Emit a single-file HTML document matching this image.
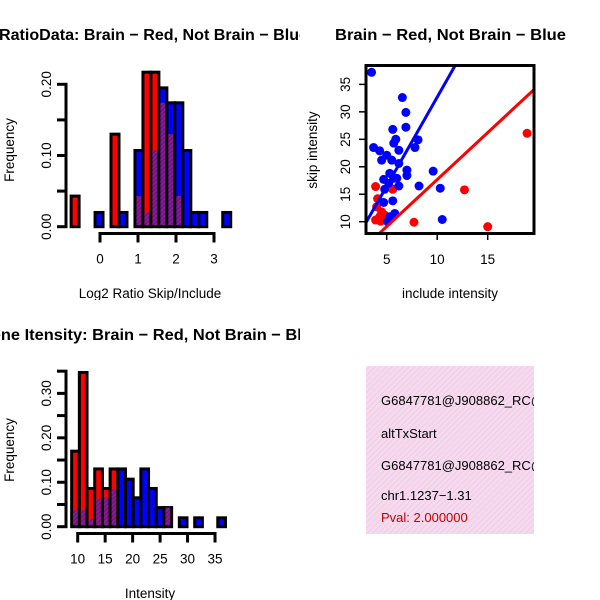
<!DOCTYPE html>
<html><head><meta charset="utf-8"><style>
html,body{margin:0;padding:0;background:#fff}
svg{display:block;font-family:"Liberation Sans",sans-serif}
</style></head><body>
<svg id="c" width="600" height="600" xmlns="http://www.w3.org/2000/svg">
<defs>
<clipPath id="cl1"><rect x="0" y="0" width="300" height="300"/></clipPath>
<clipPath id="cl2"><rect x="0" y="300" width="300" height="300"/></clipPath>
<clipPath id="cl3"><rect x="366" y="66" width="168" height="167"/></clipPath>
<clipPath id="cl4"><rect x="366" y="366" width="168" height="168"/></clipPath>
<pattern id="hatch" width="4" height="4" patternUnits="userSpaceOnUse" patternTransform="rotate(-45)">
<rect width="4" height="4" fill="#fad8f4"/><rect width="4" height="1.1" fill="#e4d4d8"/></pattern>
<pattern id="ph" width="3" height="3" patternUnits="userSpaceOnUse" patternTransform="rotate(-45)">
<rect width="3" height="3" fill="#8a1a9a"/><rect width="3" height="1" fill="#6a1070"/></pattern>
</defs>
<g id="p1" clip-path="url(#cl1)">
<text x="-1" y="40" font-weight="bold" font-size="16" textLength="309" lengthAdjust="spacingAndGlyphs">RatioData: Brain − Red, Not Brain − Blue</text>
<text x="150" y="298" text-anchor="middle" font-size="13.5">Log2 Ratio Skip/Include</text>
<text transform="translate(14,150) rotate(-90)" text-anchor="middle" font-size="13.5">Frequency</text>
</g>
<g id="p2" clip-path="url(#cl2)">
<text x="-21" y="340" font-weight="bold" font-size="16" textLength="342" lengthAdjust="spacingAndGlyphs">Gene Itensity: Brain − Red, Not Brain − Blue</text>
<text x="150" y="598" text-anchor="middle" font-size="13.5">Intensity</text>
<text transform="translate(14,450) rotate(-90)" text-anchor="middle" font-size="13.5">Frequency</text>
</g>
<g id="p3">
<text x="335" y="40" font-weight="bold" font-size="16" textLength="231" lengthAdjust="spacingAndGlyphs">Brain − Red, Not Brain − Blue</text>
<text x="450" y="298" text-anchor="middle" font-size="13.5">include intensity</text>
<text transform="translate(317,150) rotate(-90)" text-anchor="middle" font-size="13.5">skip intensity</text>
</g>
<g id="p4" clip-path="url(#cl4)">
<rect x="366" y="366" width="168" height="168" fill="url(#hatch)"/>
<text x="381" y="405" font-size="13">G6847781@J908862_RC@J908863</text>
<text x="381" y="438" font-size="13">altTxStart</text>
<text x="381" y="470" font-size="13">G6847781@J908862_RC@J908863</text>
<text x="381" y="500" font-size="13">chr1.1237−1.31</text>
<text x="381" y="522" font-size="13" fill="#c00000">Pval: 2.000000</text>
</g>
</svg>
<script>
// Ratio histogram data
const ratioBreaks = [-0.76,-0.55,-0.34,-0.13,0.08,0.29,0.50,0.71,0.92,1.13,1.34,1.55,1.76,1.97,2.18,2.39,2.60,2.81,3.02,3.23,3.44];
const ratioRed  = [0.043,0,0,0,0,0.13,0,0,0.043,0.217,0.217,0.174,0.13,0.043,0,0,0,0,0,0];
const ratioBlue = [0,0,0,0.02,0,0,0.02,0,0.107,0.02,0.107,0.195,0.174,0.174,0.107,0.02,0.02,0,0,0.02];
const ratioXTicks = [0,1,2,3];
const ratioYTicks = [0,0.05,0.10,0.15,0.20];
const ratioYLabels = ["0.00","","0.10","","0.20"];
// Intensity histogram data
const intBreaks = [8.9,10.3,11.7,13.1,14.5,15.9,17.3,18.7,20.1,21.5,22.9,24.3,25.7,27.1,28.5,29.9,31.3,32.7,34.1,35.5,36.9];
const intRed  = [0.17,0.347,0.086,0.13,0.086,0.13,0,0,0,0,0,0,0.043,0,0,0,0,0,0,0];
const intBlue = [0.037,0.037,0.017,0.063,0.065,0.083,0.13,0.107,0.065,0.13,0.086,0.043,0.043,0,0.02,0,0.02,0,0,0.02];
const intXTicks = [10,15,20,25,30,35];
const intYTicks = [0,0.05,0.10,0.15,0.20,0.25,0.30,0.35];
const intYLabels = ["0.00","","0.10","","0.20","","0.30",""];
// Scatter data
const blueX = [3.5,6.55,6.9,6.9,5.6,5.9,8.1,7.8,3.7,4.3,6.2,5.7,4.5,5.0,5.5,6.2,7.0,7.0,9.6,8.2,10.3,10.5,5.3,5.7,4.7,6.2,4.8,5.6,4.7,5.8,5.3,5.1,6.0,5.2];
const blueY = [37.2,32.6,29.9,27.2,26.8,25.0,24.9,23.5,23.5,22.9,23.0,24.3,21.2,22.1,21.2,20.6,19.4,18.4,19.2,16.5,16.1,10.4,18.8,17.9,17.7,16.5,15.9,13.8,13.5,11.5,10.9,10.0,17.9,17.0];
const redX = [18.9,12.7,15.0,7.7,3.9,5.6,4.1,4.0,4.5,3.9,4.3,4.8,4.4];
const redY = [26.1,15.8,9.1,9.9,16.4,15.9,14.2,12.7,11.8,10.3,10.9,11.2,10.1];
const blueFit = [0.28,3.24];
const redFit = [0.57,1.71];
const scXTicks = [5,10,15];
const scYTicks = [10,15,20,25,30,35];

const NS="http://www.w3.org/2000/svg";
function mk(parent,tag,attrs){const e=document.createElementNS(NS,tag);for(const k in attrs)e.setAttribute(k,attrs[k]);parent.appendChild(e);return e;}

function hist(g,breaks,red,blue,sx,sy,prefix){
  for(let i=0;i<red.length;i++){
    const r=red[i],b=blue[i];
    if(r<=0&&b<=0)continue;
    const x0=sx(breaks[i]),x1=sx(breaks[i+1]);
    const hi=Math.max(r,b),lo=Math.min(r,b);
    const big=mk(g,'rect',{x:x0,y:sy(hi),width:x1-x0,height:sy(0)-sy(hi),fill:r>=b?'#ff0000':'#0000ff',stroke:'#000','stroke-width':3});
    
    
    if(lo>0){
      const ov=mk(g,'rect',{x:x0+1.5,y:sy(lo),width:x1-x0-3,height:sy(0)-sy(lo)-1.5,fill:'url(#ph)'});
      
      
    }
  }
}
function yaxis(g,ticks,labels,sy,ax,name){
  const l=mk(g,'line',{x1:ax,x2:ax,y1:sy(ticks[ticks.length-1]),y2:sy(ticks[0]),stroke:'#000','stroke-width':3});
  
  
  ticks.forEach((t,i)=>{
    mk(g,'line',{x1:ax-9,x2:ax+1.5,y1:sy(t),y2:sy(t),stroke:'#000','stroke-width':3});
    if(labels[i]){const tx=mk(g,'text',{transform:`translate(${ax-15},${sy(t)}) rotate(-90)`,'text-anchor':'middle','font-size':13.5});tx.textContent=labels[i];
      
      }
  });
}
function xaxis(g,ticks,sx,ay,name){
  const l=mk(g,'line',{x1:sx(ticks[0]),x2:sx(ticks[ticks.length-1]),y1:ay,y2:ay,stroke:'#000','stroke-width':3});
  
  
  ticks.forEach(t=>{
    mk(g,'line',{x1:sx(t),x2:sx(t),y1:ay-1.5,y2:ay+9,stroke:'#000','stroke-width':3});
    const tx=mk(g,'text',{x:sx(t),y:ay+30,'text-anchor':'middle','font-size':13.5});tx.textContent=t;
    
    
  });
}
// Panel 1
{const g=document.getElementById('p1');
 const sx=v=>100+38*v, sy=v=>226.7-712*v;
 hist(g,ratioBreaks,ratioRed,ratioBlue,sx,sy,'ratio');
 yaxis(g,ratioYTicks,ratioYLabels,sy,66,'ratio');
 xaxis(g,ratioXTicks,sx,233.5,'ratio');}
// Panel 2
{const g=document.getElementById('p2');
 const sx=v=>77.7+5.493*(v-10), sy=v=>526.7-444.4*v;
 hist(g,intBreaks,intRed,intBlue,sx,sy,'intensity');
 yaxis(g,intYTicks,intYLabels,sy,66,'intensity');
 xaxis(g,intXTicks,sx,533.5,'intensity');}
// Panel 3
{const g=document.getElementById('p3');
 const sx=v=>386.7+10.1*(v-5), sy=v=>221.7-5.493*(v-10);
 const pg=mk(g,'g',{'clip-path':'url(#cl3)'});
 redX.forEach((x,i)=>{const c=mk(pg,'circle',{cx:sx(x),cy:sy(redY[i]),r:4.5,fill:'#ff0000'});
   
   });
 blueX.forEach((x,i)=>{const c=mk(pg,'circle',{cx:sx(x),cy:sy(blueY[i]),r:4.5,fill:'#0000ff'});
   
   });
 const xa=0,xb=25;
 const bl=mk(pg,'line',{x1:sx(xa),y1:sy(blueFit[0]+blueFit[1]*xa),x2:sx(xb),y2:sy(blueFit[0]+blueFit[1]*xb),stroke:'#0000ff','stroke-width':3});
 
 
 const rl=mk(pg,'line',{x1:sx(xa),y1:sy(redFit[0]+redFit[1]*xa),x2:sx(xb),y2:sy(redFit[0]+redFit[1]*xb),stroke:'#ff0000','stroke-width':3});
 
 
 const box=mk(g,'rect',{x:366,y:65.5,width:168,height:168,fill:'none',stroke:'#000','stroke-width':3});
 
 
 scXTicks.forEach(t=>{mk(g,'line',{x1:sx(t),x2:sx(t),y1:233,y2:240,stroke:'#000','stroke-width':1.5});
   const tx=mk(g,'text',{x:sx(t),y:264,'text-anchor':'middle','font-size':13.5});tx.textContent=t;
   
   });
 scYTicks.forEach(t=>{mk(g,'line',{x1:359,x2:366,y1:sy(t),y2:sy(t),stroke:'#000','stroke-width':1.5});
   const tx=mk(g,'text',{transform:`translate(350,${sy(t)}) rotate(-90)`,'text-anchor':'middle','font-size':13.5});tx.textContent=t;
   
   });
}
</script>
</body></html>
